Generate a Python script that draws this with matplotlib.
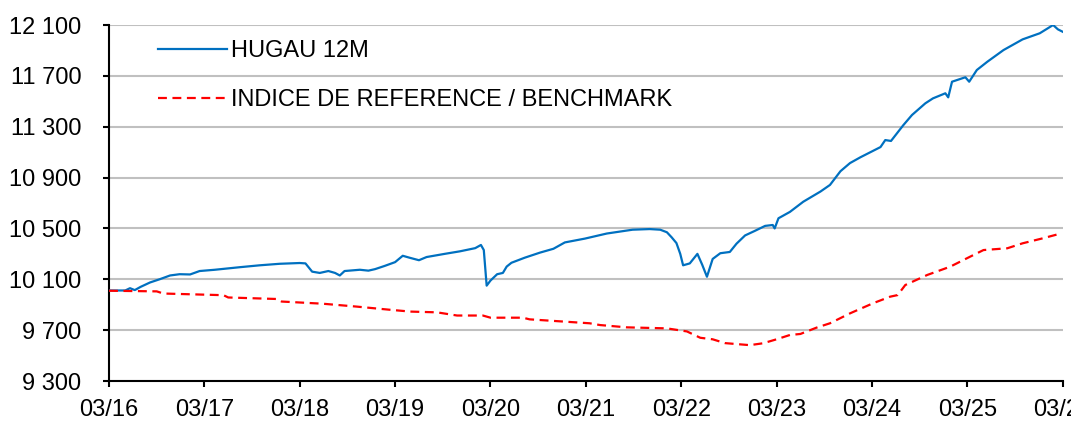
#!/usr/bin/env python3
"""HUGAU 12M vs benchmark, base 10 000 (03/16 - 03/26)."""

import matplotlib

matplotlib.use("Agg")
import matplotlib.pyplot as plt
from matplotlib.ticker import FuncFormatter

# years since 03/2016
fund_t = [0.00, 0.17, 0.22, 0.27, 0.33, 0.43, 0.53, 0.64, 0.74, 0.85, 0.95,
          1.11, 1.37, 1.58, 1.79, 2.00, 2.06, 2.13, 2.21, 2.30, 2.37, 2.42,
          2.47, 2.63, 2.72, 2.79, 2.89, 3.00, 3.08, 3.15, 3.25, 3.33, 3.52,
          3.68, 3.84, 3.90, 3.93, 3.96, 4.00, 4.07, 4.13, 4.17, 4.22, 4.36,
          4.52, 4.66, 4.78, 4.99, 5.22, 5.49, 5.67, 5.78, 5.85, 5.90, 5.95,
          5.99, 6.02, 6.09, 6.17, 6.22, 6.27, 6.33, 6.41, 6.51, 6.58, 6.67,
          6.77, 6.88, 6.96, 6.98, 7.02, 7.14, 7.28, 7.46, 7.56, 7.67, 7.77,
          7.88, 8.09, 8.14, 8.20, 8.33, 8.42, 8.56, 8.64, 8.77, 8.80, 8.84,
          8.98, 9.02, 9.10, 9.21, 9.38, 9.58, 9.76, 9.90, 9.95, 10.00]
fund_val = [10012, 10012, 10030, 10015, 10040, 10075, 10100, 10130, 10140,
            10138, 10165, 10175, 10195, 10210, 10222, 10228, 10225, 10160,
            10150, 10165, 10150, 10130, 10165, 10175, 10168, 10180, 10205,
            10235, 10285, 10270, 10250, 10275, 10300, 10320, 10345, 10370,
            10330, 10050, 10090, 10140, 10150, 10200, 10230, 10270, 10310,
            10340, 10390, 10420, 10460, 10490, 10495, 10490, 10470, 10430,
            10385, 10300, 10210, 10225, 10300, 10215, 10120, 10260, 10305,
            10315, 10380, 10445, 10480, 10520, 10527, 10500, 10580, 10630,
            10710, 10790, 10842, 10950, 11014, 11060, 11140, 11195, 11188,
            11313, 11392, 11484, 11523, 11563, 11531, 11654, 11689, 11654,
            11746, 11811, 11903, 11987, 12035, 12100, 12066, 12047]

bench_t = [0.00, 0.50, 0.57, 1.20, 1.25, 1.76, 1.81, 2.24, 2.60, 2.95, 3.16,
           3.44, 3.65, 3.92, 4.00, 4.34, 4.41, 5.04, 5.15, 5.43, 5.85, 6.06,
           6.20, 6.33, 6.46, 6.72, 6.86, 7.00, 7.14, 7.25, 7.42, 7.56, 7.70,
           7.77, 8.01, 8.19, 8.27, 8.35, 8.58, 8.82, 9.03, 9.17, 9.42, 9.58,
           9.79, 9.99]
bench_val = [10010, 10005, 9988, 9975, 9957, 9945, 9925, 9908, 9885, 9860,
             9846, 9840, 9815, 9815, 9798, 9798, 9785, 9754, 9740, 9722, 9714,
             9690, 9640, 9628, 9598, 9582, 9597, 9628, 9662, 9670, 9720, 9754,
             9806, 9832, 9911, 9963, 9976, 10055, 10134, 10199, 10278, 10330,
             10344, 10383, 10422, 10462]

x_ticks = list(range(11))
x_labels = ["03/16", "03/17", "03/18", "03/19", "03/20", "03/21", "03/22",
            "03/23", "03/24", "03/25", "03/26"]
y_ticks = [9300, 9700, 10100, 10500, 10900, 11300, 11700, 12100]


def main() -> None:
    plt.rcParams["font.family"] = ["Liberation Sans", "DejaVu Sans"]
    fig = plt.figure(figsize=(10.71, 4.21), dpi=100)
    ax = fig.add_axes([0.1018, 0.095, 0.8904, 0.8456])

    ax.plot(fund_t, fund_val, color="#0070C0", lw=1.6, label="HUGAU 12M",
            zorder=3)
    ax.plot(bench_t, bench_val, color="#FF0000", lw=1.6, dashes=(4, 2.5),
            label="INDICE DE REFERENCE / BENCHMARK", zorder=3)

    ax.set_xlim(0, 10)
    ax.set_ylim(9300, 12100)
    ax.set_xticks(x_ticks)
    ax.set_xticklabels(x_labels)
    ax.set_yticks(y_ticks)
    ax.yaxis.set_major_formatter(
        FuncFormatter(lambda v, _: f"{int(v):,}".replace(",", " ")))

    ax.grid(True, axis="y", color="#C0C0C0", lw=1.5)
    ax.set_axisbelow(True)
    for side in ("top", "right"):
        ax.spines[side].set_visible(False)
    for side in ("left", "bottom"):
        ax.spines[side].set_linewidth(1.5)
        ax.spines[side].set_color("black")
    ax.tick_params(axis="y", length=4, width=1.5, pad=16, labelsize=17)
    ax.tick_params(axis="x", length=4, width=1.5, pad=9, labelsize=17)

    ax.legend(loc="upper left", bbox_to_anchor=(0.0514, 0.958),
              frameon=False, fontsize=17, handlelength=2.9,
              handletextpad=0.2, labelspacing=1.15, borderpad=0,
              borderaxespad=0)

    fig.savefig("out.png", dpi=100)


if __name__ == "__main__":
    main()
